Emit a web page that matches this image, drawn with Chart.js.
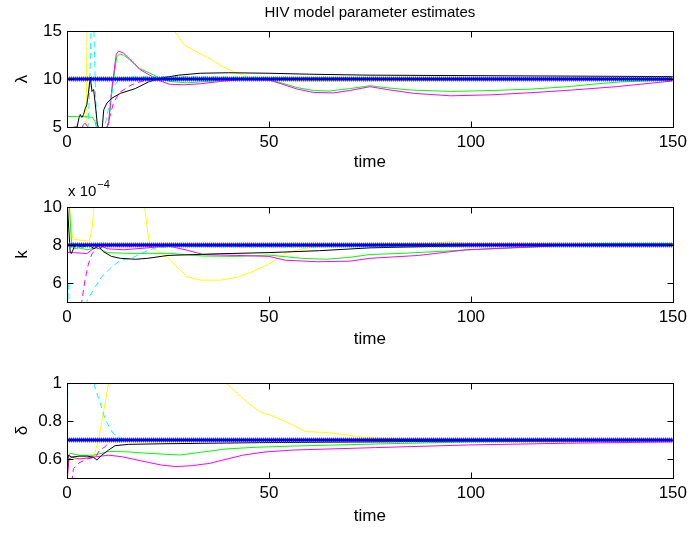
<!DOCTYPE html>
<html>
<head>
<meta charset="utf-8">
<script src="https://cdn.jsdelivr.net/npm/chart.js@4.4.1/dist/chart.umd.min.js"></script>
<style>
  body { margin: 0; background: #fff; }
  .panel { position: absolute; left: 0; width: 692px; }
</style>
</head>
<body>
<div class="panel" style="top:0px"><canvas id="c1" width="692" height="178"></canvas></div>
<div class="panel" style="top:178px"><canvas id="c2" width="692" height="177"></canvas></div>
<div class="panel" style="top:355px"><canvas id="c3" width="692" height="178"></canvas></div>
<script>
// tick labels
const timeTicks = [0, 50, 100, 150];
const lambdaTicks = [5, 10, 15];
const kTicks = [6, 8, 10];          // x 10^-4
const deltaTicks = [0.6, 0.8, 1];

// true parameter values
const lambdaTrue = 10;
const kTrue = 8;                    // x 10^-4
const deltaTrue = 0.7;

// lambda estimates, [time, value]
const lambdaBlack = [[0,4.9],[2.5,5.0],[3.0,6.0],[3.3,6.3],[3.7,6.0],[4.1,6.3],[4.5,6.9],[4.9,7.3],[5.3,8.5],[5.75,10.2],[6.2,8.7],[6.6,8.9],[7.0,7.4],[7.5,5.3],[7.9,4.8],[8.7,4.8],[9.1,6.8],[9.9,7.5],[11.1,8.0],[13.2,8.5],[16.9,9.0],[20.2,9.7],[23.4,10.1],[27.6,10.4],[33,10.6],[40,10.65],[50,10.6],[60,10.5],[75,10.4],[100,10.35],[125,10.3],[150,10.25]];
const lambdaGreen = [[0,6.1],[4,6.1],[6.3,6.0],[6.9,5.6],[7.4,4.8],[9.6,4.8],[10.3,5.3],[11.1,8.7],[12.3,12.3],[13,12.6],[14,12.5],[15.5,12.0],[18,11.1],[20.5,10.6],[23,10.1],[25.4,9.75],[29.5,9.6],[35,9.75],[40,9.95],[45,10.0],[50,9.95],[53,9.6],[57,9.1],[61,8.8],[65,8.75],[70,9.0],[75,9.3],[80,9.05],[85,8.85],[95,8.7],[105,8.8],[115,8.95],[124,9.2],[130,9.45],[137,9.7],[150,9.9]];
const lambdaMagenta = [[0,4.8],[3.5,4.8],[4,5.2],[4.5,5.4],[5,5.1],[5.5,4.8],[9.7,4.8],[10.3,5.4],[11.1,9.0],[12.2,12.6],[12.8,12.9],[14,12.7],[15.5,12.1],[18,11.0],[20.5,10.4],[23,9.8],[25.4,9.45],[29,9.4],[33,9.5],[38,9.75],[43,9.95],[50,9.9],[53,9.5],[57,8.95],[61,8.6],[66,8.55],[70,8.8],[75,9.2],[80,8.85],[86,8.5],[95,8.25],[105,8.35],[116,8.6],[125,8.85],[136,9.2],[150,9.8]];
const lambdaMagentaDash = [[9.8,4.8],[11.5,7.5],[13,8.6],[14.5,9.0],[16,9.4],[18,9.7],[21,10.0],[40,10.05],[150,10.0]];
const lambdaCyanDash = [[0,4.9],[5.2,4.9],[5.6,9],[6.0,16],[6.6,16],[7.1,8],[7.5,4.8],[9.2,4.8],[10.3,7.0],[11.5,9.2],[13,10.0],[16,10.2],[25,10.25],[40,10.2],[60,10.15],[90,10.05],[150,10.0]];
const lambdaYellow = [[0,4.5],[4.7,4.5],[5.1,20],[26,17],[26.6,15],[29.1,13.5],[33.6,12.5],[36,12.0],[38.5,11.3],[41.4,10.7],[45.2,10.2],[50,9.9],[58,9.75],[70,9.8],[85,9.8],[100,9.9],[150,10.0]];

// k estimates (x 10^-4)
const kBlack = [[0,10.5],[0.4,9],[0.8,7.6],[1.1,7.56],[2,8.0],[3.8,7.9],[5.5,8.0],[6.7,7.8],[7.8,7.95],[9,7.65],[11,7.4],[13.2,7.3],[17,7.25],[20,7.3],[25,7.45],[37.7,7.54],[50,7.6],[62.5,7.7],[75,7.85],[100,7.97],[125,8.0],[150,8.0]];
const kGreen = [[0,11],[0.6,10],[1.1,8.2],[1.6,7.8],[3,7.85],[5,7.75],[7,7.85],[8,7.8],[10,7.6],[15,7.56],[20,7.56],[25.4,7.56],[33.6,7.42],[42,7.4],[50,7.47],[58,7.3],[64,7.25],[70,7.35],[75,7.5],[83,7.56],[99,7.74],[116,7.9],[132,8.08],[150,8.08]];
const kMagenta = [[0,7.6],[1.6,7.6],[4.9,7.55],[6.5,7.8],[8,8.0],[10,7.8],[14,7.75],[20,7.85],[25,7.95],[29.5,7.74],[33.6,7.5],[42,7.45],[50,7.4],[54,7.2],[62,7.12],[70,7.15],[75,7.3],[87,7.45],[99,7.75],[115,7.9],[124,8.0],[150,8.02]];
const kMagentaDash = [[3.5,4.8],[4.5,6.2],[5.3,7.0],[6.2,7.55],[7.5,7.8],[10,7.95],[20,7.95],[40,7.92],[70,7.95],[100,8.05],[150,8.0]];
const kCyanDash = [[0,5.5],[0.3,6.0],[0.6,4.8],[4.8,4.8],[5,5.1],[7,5.8],[8.6,6.33],[10.7,6.77],[13.2,7.2],[16,7.3],[18.5,7.58],[22,7.85],[27,7.92],[50,7.9],[80,7.92],[110,7.98],[150,8.0]];
const kYellow = [[0,4.5],[0.3,12],[0.8,9],[1.5,8.3],[5.5,8.2],[6.3,9],[7.3,12],[18.5,12],[19.2,10],[20.5,7.9],[23,7.6],[25,7.35],[27,6.9],[29.5,6.35],[33,6.15],[38,6.15],[42,6.3],[46,6.6],[50,7.0],[54,7.55],[58,7.8],[62,7.9],[70,8.0],[90,8.1],[95,8.17],[100,8.05],[150,8.0]];

// delta estimates
const deltaBlack = [[0,0.48],[0.3,0.62],[1.2,0.61],[3,0.615],[5,0.615],[6.5,0.61],[7.4,0.595],[8.6,0.62],[10.3,0.647],[11.9,0.67],[15.2,0.677],[23,0.68],[47.6,0.686],[76,0.69],[100,0.695],[150,0.697]];
const deltaGreen = [[0,0.6],[0.8,0.63],[3,0.62],[6.6,0.62],[8.6,0.63],[10.3,0.64],[14.7,0.638],[20,0.63],[27.9,0.621],[33,0.635],[39.4,0.653],[47,0.662],[55.8,0.668],[76.4,0.679],[100,0.69],[125,0.695],[150,0.697]];
const deltaMagenta = [[0,0.48],[0.5,0.6],[1.2,0.61],[3,0.6],[6.6,0.61],[10.3,0.62],[13.6,0.612],[19.3,0.586],[23.4,0.568],[27,0.56],[31,0.565],[35.3,0.577],[43.5,0.62],[49,0.637],[55.8,0.647],[76.4,0.66],[99.4,0.674],[124,0.683],[150,0.69]];
const deltaMagentaDash = [[1.2,0.48],[1.6,0.55],[3,0.58],[5,0.6],[7,0.61],[8.1,0.647],[9.5,0.665],[10.6,0.7],[20,0.702],[60,0.701],[150,0.7]];
const deltaCyanDash = [[0,0.45],[0.2,1.1],[6.3,1.05],[6.6,1.0],[8.5,0.875],[9.5,0.805],[11.4,0.735],[13,0.71],[16,0.7],[150,0.7]];
const deltaYellow = [[0,0.48],[0.5,0.6],[0.8,0.595],[3,0.6],[6.6,0.61],[7.8,0.70],[9.05,0.85],[10.3,1.0],[11,1.1],[39,1.1],[39.4,1.0],[43.5,0.92],[47.6,0.85],[51.7,0.82],[55.8,0.78],[59.1,0.744],[64,0.74],[68,0.73],[72.3,0.717],[76.4,0.71],[85,0.703],[150,0.7]];

Chart.defaults.font.family = '"Liberation Sans", Arial, Helvetica, sans-serif';
Chart.defaults.color = '#000';

const labelSize = 17;

// box around the axes, ticks pointing inwards, optional exponent note
const frame = {
    id: 'frame',
    afterDatasetsDraw(chart, args, opts) {
        const { ctx, chartArea: a, scales: { x, y } } = chart;
        ctx.save();
        ctx.strokeStyle = '#000';
        ctx.lineWidth = 1;
        const L = Math.round(a.left) + 0.5, R = Math.round(a.right) + 0.5;
        const T = Math.round(a.top) + 0.5, B = Math.round(a.bottom) + 0.5;
        ctx.strokeRect(L, T, R - L, B - T);
        ctx.beginPath();
        x.ticks.forEach(t => {
            const px = Math.round(x.getPixelForValue(t.value)) + 0.5;
            ctx.moveTo(px, B); ctx.lineTo(px, B - 6);
            ctx.moveTo(px, T); ctx.lineTo(px, T + 6);
        });
        y.ticks.forEach(t => {
            const py = Math.round(y.getPixelForValue(t.value)) + 0.5;
            ctx.moveTo(L, py); ctx.lineTo(L + 6, py);
            ctx.moveTo(R, py); ctx.lineTo(R - 6, py);
        });
        ctx.stroke();
        if (opts.exponent) {
            ctx.fillStyle = '#000';
            ctx.textBaseline = 'alphabetic';
            ctx.font = '15px ' + Chart.defaults.font.family;
            ctx.fillText('x 10', a.left + 1, a.top - 11);
            const w = ctx.measureText('x 10').width;
            ctx.font = '11px ' + Chart.defaults.font.family;
            ctx.fillText(opts.exponent, a.left + 2 + w, a.top - 19);
        }
        ctx.restore();
    }
};

function lineSet(trueVal, black, green, magenta, magentaDash, cyanDash, yellow) {
    const flat = [[0, trueVal], [150, trueVal]];
    const base = { pointRadius: 0, borderWidth: 1, tension: 0, fill: false };
    return [
        { ...base, data: flat, borderColor: '#0000ff', borderWidth: 3 },
        { ...base, data: flat, borderColor: '#3d5cff', borderWidth: 5, borderDash: [1, 1] },
        { ...base, data: black, borderColor: '#000000' },
        { ...base, data: cyanDash, borderColor: '#00ffff', borderDash: [6, 4] },
        { ...base, data: magentaDash, borderColor: '#ff00ff', borderDash: [6, 4] },
        { ...base, data: magenta, borderColor: '#ff00ff' },
        { ...base, data: green, borderColor: '#00ff00' },
        { ...base, data: yellow, borderColor: '#ffff00' }
    ];
}

function makePanel(id, cfg) {
    const canvas = document.getElementById(id);
    return new Chart(canvas, {
        type: 'line',
        data: { datasets: cfg.datasets },
        plugins: [frame],
        options: {
            responsive: false,
            animation: false,
            devicePixelRatio: 1,
            layout: { padding: { top: cfg.padTop, right: 17, left: 0, bottom: 0 } },
            plugins: {
                legend: { display: false },
                tooltip: { enabled: false },
                title: {
                    display: !!cfg.title,
                    text: cfg.title || '',
                    fullSize: false,
                    color: '#000',
                    font: { size: 15, weight: 'normal' },
                    padding: { top: 4, bottom: 9 }
                },
                frame: { exponent: cfg.exponent || '' }
            },
            scales: {
                x: {
                    type: 'linear',
                    min: 0,
                    max: 150,
                    grid: { display: false, drawTicks: false },
                    border: { display: false },
                    afterBuildTicks: s => { s.ticks = timeTicks.map(v => ({ value: v })); },
                    afterFit: s => { s.height = cfg.xHeight; },
                    ticks: { padding: 5, font: { size: labelSize }, callback: v => String(v) },
                    title: { display: true, text: 'time', font: { size: labelSize }, padding: { top: 0, bottom: cfg.timePad } }
                },
                y: {
                    min: cfg.yMin,
                    max: cfg.yMax,
                    grid: { display: false, drawTicks: false },
                    border: { display: false },
                    afterBuildTicks: s => { s.ticks = cfg.yTicks.map(v => ({ value: v })); },
                    afterFit: s => { s.width = 67; },
                    ticks: { padding: 5, font: { size: labelSize }, callback: v => String(v) },
                    title: { display: true, text: cfg.yLabel, font: { size: labelSize }, padding: { top: 12, bottom: 0 } }
                }
            }
        }
    });
}

makePanel('c1', {
    title: 'HIV model parameter estimates',
    padTop: 0, xHeight: 51, timePad: 5,
    yMin: 5, yMax: 15, yTicks: lambdaTicks, yLabel: 'λ',
    datasets: lineSet(lambdaTrue, lambdaBlack, lambdaGreen, lambdaMagenta, lambdaMagentaDash, lambdaCyanDash, lambdaYellow)
});

makePanel('c2', {
    padTop: 29, xHeight: 53, timePad: 5, exponent: '−4',
    yMin: 5, yMax: 10, yTicks: kTicks, yLabel: 'k',
    datasets: lineSet(kTrue, kBlack, kGreen, kMagenta, kMagentaDash, kCyanDash, kYellow)
});

makePanel('c3', {
    padTop: 28, xHeight: 55, timePad: 6,
    yMin: 0.5, yMax: 1, yTicks: deltaTicks, yLabel: 'δ',
    datasets: lineSet(deltaTrue, deltaBlack, deltaGreen, deltaMagenta, deltaMagentaDash, deltaCyanDash, deltaYellow)
});
</script>
</body>
</html>
